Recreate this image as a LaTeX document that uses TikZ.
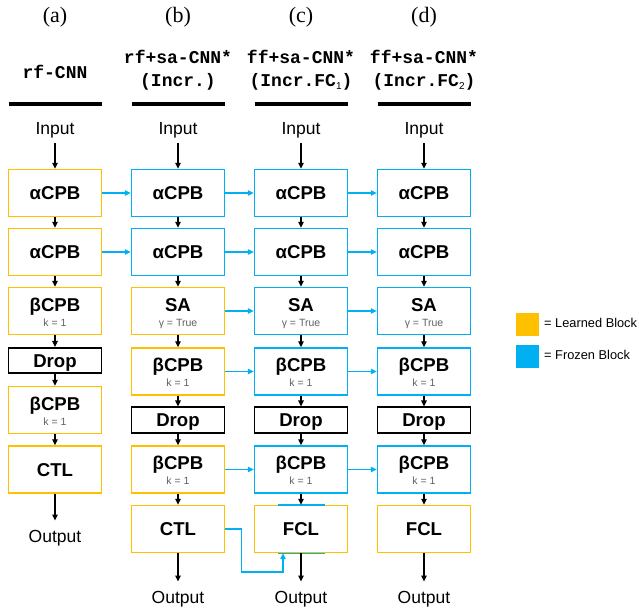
\documentclass[tikz,border=0pt]{standalone}
\usepackage{fontspec}
\setmainfont{Liberation Sans}
\newfontfamily\serifhdr{Liberation Serif}
\newfontfamily\monohdr{Liberation Mono}
\usetikzlibrary{arrows.meta}
\definecolor{lrn}{HTML}{FFC000}
\definecolor{frz}{HTML}{00B0F0}
\definecolor{subgray}{HTML}{606060}
\tikzset{
 blkbase/.style={draw, line width=1.4pt, minimum width=93pt, minimum height=47pt, inner sep=0pt},
 lrnblk/.style={blkbase, draw=lrn},
 frzblk/.style={blkbase, draw=frz},
 dropblk/.style={blkbase, draw=black, line width=1.6pt, minimum height=25.5pt},
 mtxt/.style={inner sep=0pt, text height=13.2pt, text depth=0pt, font=\fontsize{18.6}{18.6}\selectfont\bfseries},
 stxt/.style={inner sep=0pt, text height=7.5pt, text depth=0pt, text=subgray, font=\fontsize{10.5}{10.5}\selectfont},
 io/.style={inner sep=0pt, text height=12.6pt, text depth=0pt, font=\fontsize{17.5}{17.5}\selectfont},
 hdr/.style={inner sep=0pt, font=\serifhdr\fontsize{22}{22}\selectfont},
 mono/.style={inner sep=0pt, text height=10pt, text depth=0pt, font=\monohdr\bfseries\fontsize{18}{18}\selectfont},
 rulel/.style={line width=3.5pt, black},
 varr/.style={-{Triangle[length=6pt,width=5.5pt]}, line width=1.1pt, black},
 harr/.style={-{Triangle[length=6pt,width=5.5pt]}, line width=1.2pt, frz},
 lgsq/.style={fill=#1, minimum size=23pt, inner sep=0pt},
 lgtxt/.style={anchor=west, inner sep=0pt, text height=9.2pt, text depth=0pt, font=\fontsize{12.8}{12.8}\selectfont},
}
\newcommand\oneblk[5]{\node[#2] (#1) at (#3,#4) {}; \node[mtxt] (#1t) at (#1.center) {#5};}
\newcommand\twoblk[6]{\node[#2] (#1) at (#3,#4) {}; \node[mtxt] (#1t) at ([yshift=6.5pt]#1.center) {#5}; \node[stxt] (#1s) at ([yshift=-11.5pt]#1.center) {#6};}
\newcommand\subnum[1]{\raisebox{-2.5pt}{\normalfont\fontsize{10}{10}\selectfont #1}}
\begin{document}
\begin{tikzpicture}[x=1pt,y=-1pt]
\useasboundingbox (0,0) rectangle (639,609);
% headers
\node[hdr] (ha) at (55,17) {(a)};
\node[hdr] (hb) at (178,17) {(b)};
\node[hdr] (hc) at (301,17) {(c)};
\node[hdr] (hd) at (424,17) {(d)};
\node[mono] (ma) at (55,74) {rf-CNN};
\node[mono] (mb1) at (178,59) {rf+sa-CNN*};
\node[mono] (mb2) at (178,82) {(Incr.)};
\node[mono] (mc1) at (301,59) {ff+sa-CNN*};
\node[mono] (mc2) at (301,82) {(Incr.FC\subnum{1})};
\node[mono] (md1) at (424,59) {ff+sa-CNN*};
\node[mono] (md2) at (424,82) {(Incr.FC\subnum{2})};
\draw[rulel] (8.5,104) -- (101.5,104);
\draw[rulel] (131.5,104) -- (224.5,104);
\draw[rulel] (254.5,104) -- (347.5,104);
\draw[rulel] (377.5,104) -- (470.5,104);
% inputs
\node[io] (ina) at (55,128) {Input};
\node[io] (inb) at (178,128) {Input};
\node[io] (inc) at (301,128) {Input};
\node[io] (ind) at (424,128) {Input};
% column a
\oneblk{a1}{lrnblk}{55}{193}{αCPB}
\oneblk{a2}{lrnblk}{55}{252}{αCPB}
\twoblk{a3}{lrnblk}{55}{311}{βCPB}{k = 1}
\oneblk{a4}{dropblk}{55}{360.5}{Drop}
\twoblk{a5}{lrnblk}{55}{410}{βCPB}{k = 1}
\oneblk{a6}{lrnblk}{55}{469.5}{CTL}
\node[io] (outa) at (55,536) {Output};
% column b
\oneblk{b1}{frzblk}{178}{193}{αCPB}
\oneblk{b2}{frzblk}{178}{252}{αCPB}
\twoblk{b3}{lrnblk}{178}{311}{SA}{γ = True}
\twoblk{b4}{lrnblk}{178}{371.5}{βCPB}{k = 1}
\oneblk{b5}{dropblk}{178}{420}{Drop}
\twoblk{b6}{lrnblk}{178}{469.5}{βCPB}{k = 1}
\oneblk{b7}{lrnblk}{178}{529}{CTL}
\node[io] (outb) at (178,597) {Output};
% column c
\oneblk{c1}{frzblk}{301}{193}{αCPB}
\oneblk{c2}{frzblk}{301}{252}{αCPB}
\twoblk{c3}{frzblk}{301}{311}{SA}{γ = True}
\twoblk{c4}{frzblk}{301}{371.5}{βCPB}{k = 1}
\oneblk{c5}{dropblk}{301}{420}{Drop}
\twoblk{c6}{frzblk}{301}{469.5}{βCPB}{k = 1}
\oneblk{c7}{lrnblk}{301}{529}{FCL}
\draw[frz, line width=1.4pt] ([xshift=-23pt]c7.north) -- ([xshift=24pt]c7.north);
\draw[frz, line width=1.4pt] ([xshift=-23pt]c7.south) -- ([xshift=24pt]c7.south);
\node[io] (outc) at (301,597) {Output};
% column d
\oneblk{d1}{frzblk}{424}{193}{αCPB}
\oneblk{d2}{frzblk}{424}{252}{αCPB}
\twoblk{d3}{frzblk}{424}{311}{SA}{γ = True}
\twoblk{d4}{frzblk}{424}{371.5}{βCPB}{k = 1}
\oneblk{d5}{dropblk}{424}{420}{Drop}
\twoblk{d6}{frzblk}{424}{469.5}{βCPB}{k = 1}
\oneblk{d7}{lrnblk}{424}{529}{FCL}
\node[io] (outd) at (424,597) {Output};
% vertical arrows
\foreach \c in {a,b,c,d}{
  \draw[varr, shorten <=9pt] (in\c.south) -- (\c1.north);
}
\foreach \s/\e in {a1/a2,a2/a3,a3/a4,a4/a5,a5/a6,
  b1/b2,b2/b3,b3/b4,b4/b5,b5/b6,b6/b7,
  c1/c2,c2/c3,c3/c4,c4/c5,c5/c6,c6/c7,
  d1/d2,d2/d3,d3/d4,d4/d5,d5/d6,d6/d7}{
  \draw[varr] (\s.south) -- (\e.north);
}
\draw[varr, shorten >=9pt] (a6.south) -- (outa.north);
\draw[varr, shorten >=9pt] (b7.south) -- (outb.north);
\draw[varr, shorten >=9pt] (c7.south) -- (outc.north);
\draw[varr, shorten >=9pt] (d7.south) -- (outd.north);
% horizontal arrows
\foreach \s/\e in {a1/b1,a2/b2,b1/c1,b2/c2,c1/d1,c2/d2,b3/c3,c3/d3,b4/c4,c4/d4,b6/c6,c6/d6}{
  \draw[harr] (\s.east) -- (\e.west);
}
\coordinate (lk) at (283,572);
\draw[harr] (b7.east) -- ++(16,0) |- (lk) -- (lk |- c7.south);
% legend
\node[lgsq=lrn] (lg1) at (527.5,324.5) {};
\node[lgtxt] (lg1t) at (544,323) {= Learned Block};
\node[lgsq=frz] (lg2) at (527.5,356.5) {};
\node[lgtxt] (lg2t) at (544,354.5) {= Frozen Block};
\end{tikzpicture}
\end{document}
